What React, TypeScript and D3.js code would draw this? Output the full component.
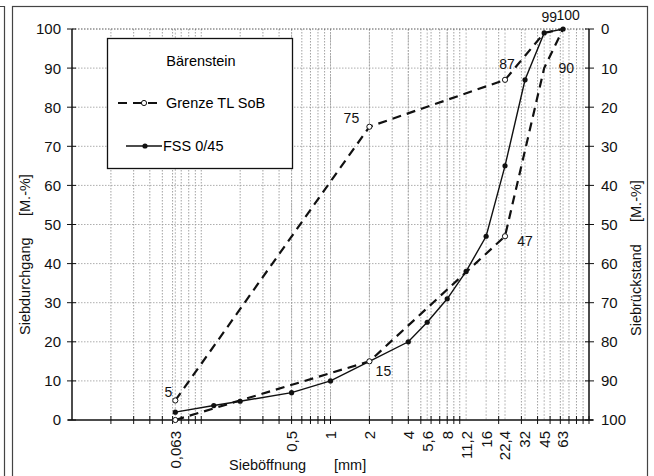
import React, { useRef, useEffect } from 'react';
import * as d3 from 'd3';

// sieve sizes labelled on the x axis [mm]
const sieveLabels = [0.063, 0.5, 1, 2, 4, 5.6, 8, 11.2, 16, 22.4, 32, 45, 63];

// FSS 0/45 grading curve (passing, M.-%)
const fssSieves = [0.063, 0.125, 0.2, 0.5, 1, 2, 4, 5.6, 8, 11.2, 16, 22.4, 32, 45, 63];
const fssValues = [2, 3.7, 4.8, 7, 10, 15, 20, 25, 31, 38, 47, 65, 87, 99, 100];

// Grenze TL SoB (upper / lower limit)
const limitSieves = [0.063, 2, 22.4, 45, 63];
const upperValues = [5, 75, 87, 99, 100];
const lowerValues = [0, 15, 47, 90, 100];

const yTicks = [0, 10, 20, 30, 40, 50, 60, 70, 80, 90, 100];

const fmt = (v: number) => String(v).replace('.', ',');

const App = () => {
  const svgRef = useRef<SVGSVGElement>(null);

  useEffect(() => {
    const width = 654;
    const height = 476;
    const left = 72, right = 589, top = 29, bottom = 420;
    const font = '"Liberation Sans", Arial, sans-serif';

    const svg = d3.select(svgRef.current)
      .attr('width', width)
      .attr('height', height)
      .style('font-family', font);
    svg.selectAll('*').remove();

    svg.append('rect').attr('width', width).attr('height', height).attr('fill', '#fff');

    // outer frames
    svg.append('path')
      .attr('d', 'M0,6.5H4.5V476')
      .attr('fill', 'none').attr('stroke', '#444').attr('stroke-width', 1.2);
    svg.append('rect')
      .attr('x', 12.5).attr('y', 6.5).attr('width', 635).attr('height', 480)
      .attr('fill', 'none').attr('stroke', '#444').attr('stroke-width', 1.2);

    const x = d3.scaleLog().domain([0.01, 100]).range([left, right]);
    const y = d3.scaleLinear().domain([0, 100]).range([bottom, top]);
    const yR = d3.scaleLinear().domain([0, 100]).range([top, bottom]);

    // minor log positions
    const minor: number[] = [];
    for (let e = -2; e <= 1; e++) {
      for (let k = 1; k <= 9; k++) minor.push(k * Math.pow(10, e));
    }
    minor.push(100);

    const grid = svg.append('g');
    grid.selectAll('line.v')
      .data(minor.filter(v => v > 0.01 && v < 100))
      .join('line')
      .attr('x1', d => x(d)).attr('x2', d => x(d))
      .attr('y1', top).attr('y2', bottom)
      .attr('stroke', '#8a8a8a').attr('stroke-width', 0.8)
      .attr('stroke-dasharray', '1.5,1.5');
    grid.selectAll('line.s')
      .data(sieveLabels)
      .join('line')
      .attr('x1', d => x(d)).attr('x2', d => x(d))
      .attr('y1', top).attr('y2', bottom)
      .attr('stroke', '#a8a8a8').attr('stroke-width', 0.8)
      .attr('stroke-dasharray', '2,1.5');
    grid.selectAll('line.h')
      .data(yTicks.filter(v => v > 0))
      .join('line')
      .attr('x1', left).attr('x2', right)
      .attr('y1', d => y(d)).attr('y2', d => y(d))
      .attr('stroke', d => (d === 100 ? '#555' : '#999'))
      .attr('stroke-width', d => (d === 100 ? 1.2 : 0.8))
      .attr('stroke-dasharray', '1.5,1.5');

    // axes lines
    const axes = svg.append('g').attr('stroke', '#111').attr('stroke-width', 1.5);
    axes.append('line').attr('x1', left).attr('x2', left).attr('y1', top).attr('y2', bottom);
    axes.append('line').attr('x1', right).attr('x2', right).attr('y1', top).attr('y2', bottom);
    axes.append('line').attr('x1', left - 4).attr('x2', right + 4).attr('y1', bottom).attr('y2', bottom);

    // y ticks
    axes.selectAll('line.yt')
      .data(yTicks)
      .join('line')
      .attr('x1', left - 5).attr('x2', left + 4)
      .attr('y1', d => y(d)).attr('y2', d => y(d))
      .attr('stroke-width', 1);
    axes.selectAll('line.yrt')
      .data(yTicks)
      .join('line')
      .attr('x1', right - 4).attr('x2', right + 5)
      .attr('y1', d => y(d)).attr('y2', d => y(d))
      .attr('stroke-width', 1);
    // x ticks
    axes.selectAll('line.xt')
      .data(minor.filter(v => v > 0.01))
      .join('line')
      .attr('x1', d => x(d)).attr('x2', d => x(d))
      .attr('y1', bottom - 4).attr('y2', bottom + 4)
      .attr('stroke-width', 1);

    const txt = svg.append('g').attr('fill', '#111').style('font-size', '15px');

    txt.selectAll('text.yl')
      .data(yTicks)
      .join('text')
      .attr('x', left - 11).attr('y', d => y(d)).attr('dy', '0.36em')
      .attr('text-anchor', 'end')
      .text(d => d);
    txt.selectAll('text.yr')
      .data(yTicks)
      .join('text')
      .attr('x', right + 12).attr('y', d => yR(d)).attr('dy', '0.36em')
      .attr('text-anchor', 'start')
      .text(d => d);

    txt.selectAll('text.xl')
      .data(sieveLabels)
      .join('text')
      .attr('transform', d => `translate(${x(d)},${bottom + 11}) rotate(-90)`)
      .attr('dy', '0.36em')
      .attr('text-anchor', 'end')
      .text(d => fmt(d));

    // axis titles
    const ttl = svg.append('g').attr('fill', '#111').style('font-size', '14.5px');
    ttl.append('text').attr('transform', 'translate(30,335) rotate(-90)').text('Siebdurchgang');
    ttl.append('text').attr('transform', 'translate(30,216) rotate(-90)').text('[M.-%]');
    ttl.append('text').attr('transform', 'translate(641,336) rotate(-90)').text('Siebrückstand');
    ttl.append('text').attr('transform', 'translate(641,222) rotate(-90)').text('[M.-%]');
    ttl.append('text').attr('x', 229).attr('y', 470).text('Sieböffnung');
    ttl.append('text').attr('x', 334).attr('y', 470).text('[mm]');

    // series
    const line = d3.line<[number, number]>().x(d => x(d[0])).y(d => y(d[1]));
    const upper = limitSieves.map((s, i) => [s, upperValues[i]] as [number, number]);
    const lower = limitSieves.map((s, i) => [s, lowerValues[i]] as [number, number]);
    const fss = fssSieves.map((s, i) => [s, fssValues[i]] as [number, number]);

    const plot = svg.append('g');
    [upper, lower].forEach(pts => {
      plot.append('path').datum(pts)
        .attr('d', line)
        .attr('fill', 'none').attr('stroke', '#111').attr('stroke-width', 2.2)
        .attr('stroke-dasharray', '9,6');
    });
    plot.append('path').datum(fss)
      .attr('d', line)
      .attr('fill', 'none').attr('stroke', '#111').attr('stroke-width', 1.4);

    plot.selectAll('circle.f')
      .data(fss)
      .join('circle')
      .attr('cx', d => x(d[0])).attr('cy', d => y(d[1])).attr('r', 2.6)
      .attr('fill', '#111');
    plot.selectAll('circle.l')
      .data([...upper, ...lower].filter(d => d[0] < 40))
      .join('circle')
      .attr('cx', d => x(d[0])).attr('cy', d => y(d[1])).attr('r', 2.6)
      .attr('fill', '#fff').attr('stroke', '#111').attr('stroke-width', 1);

    // data labels on the limit curves
    const labelOffsets: [number, number, number, number][] = [
      [0.063, 5, -7, -3],
      [2, 75, -18, -4],
      [22.4, 87, 2, -11],
      [45, 99, 5, -11],
      [63, 100, 5, -9],
      [2, 15, 14, 15],
      [22.4, 47, 20, 10],
      [45, 90, 22, 5]
    ];
    svg.append('g').attr('fill', '#111').style('font-size', '14px')
      .selectAll('text')
      .data(labelOffsets)
      .join('text')
      .attr('x', d => x(d[0]) + d[2])
      .attr('y', d => y(d[1]) + d[3])
      .attr('text-anchor', 'middle')
      .text(d => d[1]);

    // legend
    const lg = svg.append('g').style('font-size', '14.5px');
    lg.append('rect')
      .attr('x', 107.5).attr('y', 38.5).attr('width', 185).attr('height', 130)
      .attr('fill', '#fff').attr('stroke', '#111').attr('stroke-width', 1.3);
    lg.append('text').attr('x', 201).attr('y', 66).attr('text-anchor', 'middle').text('Bärenstein');
    lg.append('line').attr('x1', 118).attr('x2', 162).attr('y1', 103).attr('y2', 103)
      .attr('stroke', '#111').attr('stroke-width', 2.2).attr('stroke-dasharray', '9,6');
    lg.append('circle').attr('cx', 144).attr('cy', 103).attr('r', 2.6)
      .attr('fill', '#fff').attr('stroke', '#111');
    lg.append('text').attr('x', 166).attr('y', 108).text('Grenze TL SoB');
    lg.append('line').attr('x1', 126).attr('x2', 162).attr('y1', 146).attr('y2', 146)
      .attr('stroke', '#111').attr('stroke-width', 1.4);
    lg.append('circle').attr('cx', 145).attr('cy', 146).attr('r', 2.6).attr('fill', '#111');
    lg.append('text').attr('x', 163).attr('y', 151).text('FSS 0/45');
  }, []);

  return (
    <div style={{ position: 'absolute', left: 0, top: 0 }}>
      <svg ref={svgRef}></svg>
    </div>
  );
};

export default App;
